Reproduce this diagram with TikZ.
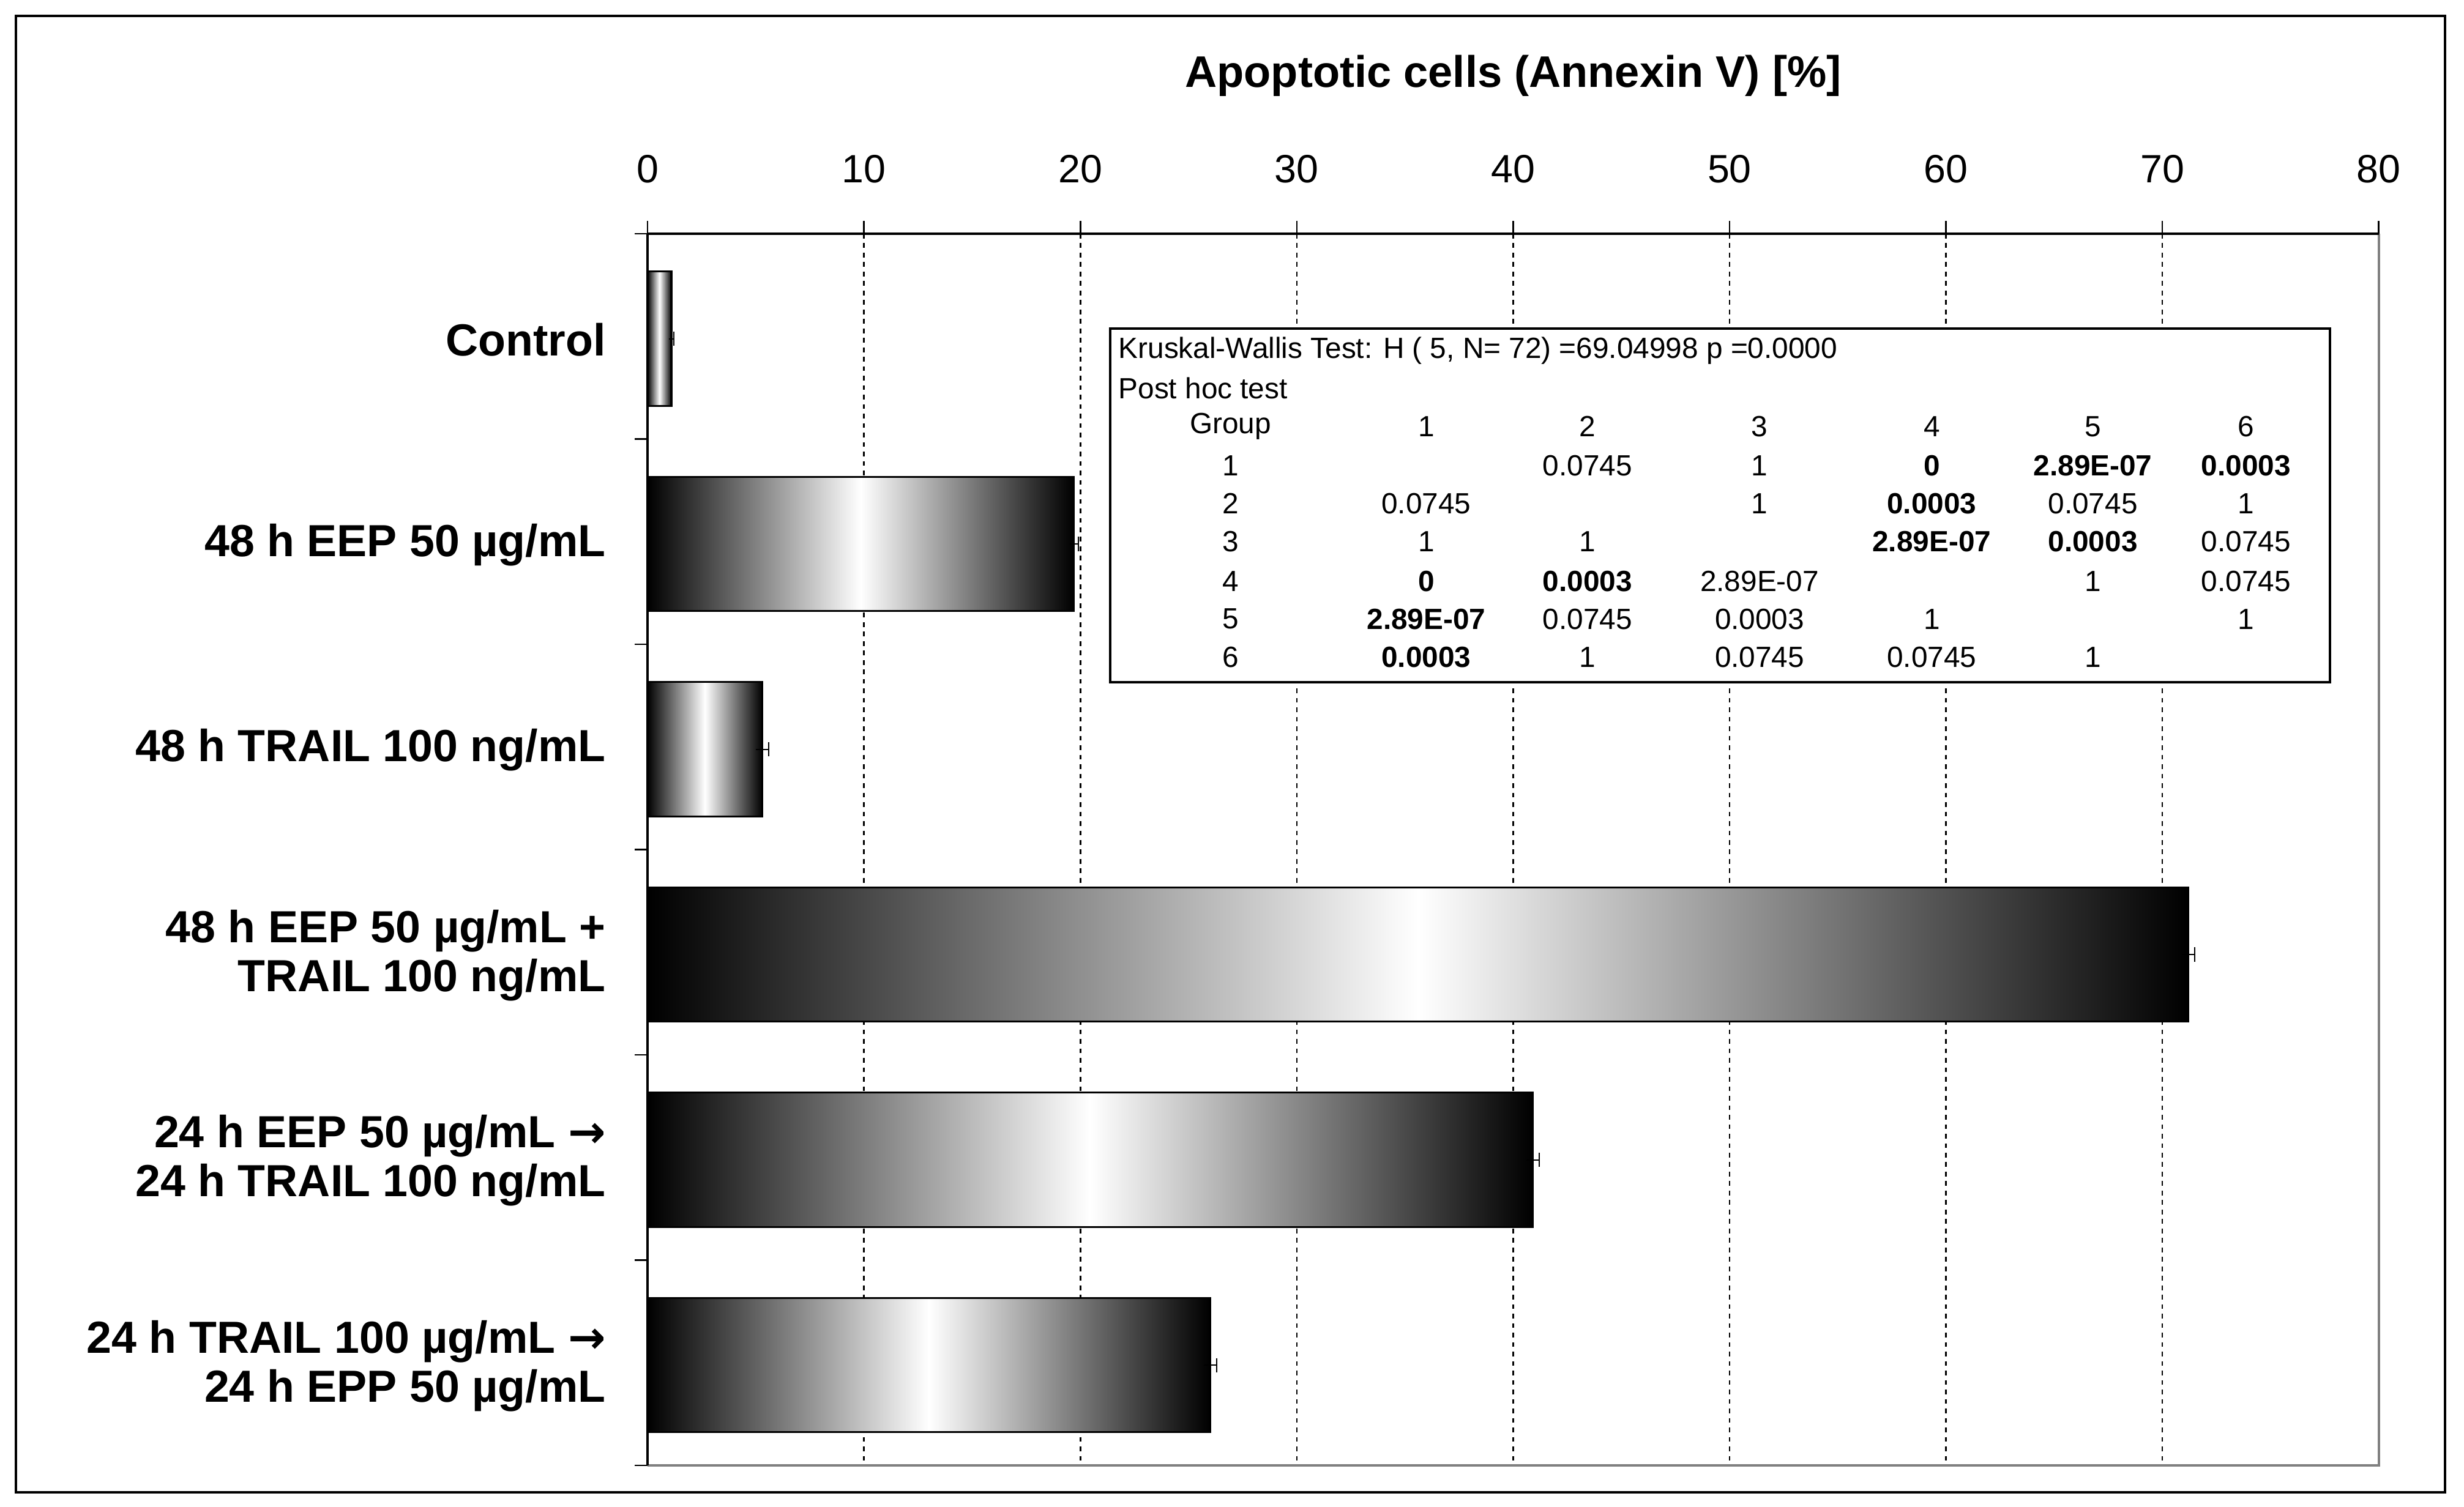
\documentclass[tikz,border=0pt]{standalone}
\usepackage{fontspec}
\setmainfont{Liberation Sans}
\newfontfamily\dv{DejaVu Sans}
\begin{document}
\begin{tikzpicture}[x=1pt,y=-1pt,
 lab/.style={font=\fontsize{28.5}{31}\selectfont\bfseries,align=right,anchor=east},
 tk/.style={font=\fontsize{25}{28}\selectfont},
 tb/.style={font=\fontsize{18.5}{20}\selectfont,inner sep=0pt},
 bar/.style={draw=black,line width=1.2pt,left color=black,right color=black,middle color=white},
 grid/.style={dashed,line width=1pt}]
\useasboundingbox (0,0) rectangle (1560,954);
\draw[line width=1.5pt] (10,10) rectangle (1548,945);
\node[font=\fontsize{28}{30}\selectfont\bfseries] (title) at (958,48) {Apoptotic cells (Annexin V) [\%]};
\foreach \v in {10,20,...,70} \draw[grid] ({410+13.7*\v},148) -- ({410+13.7*\v},928);
\draw[gray,line width=1.5pt] (1506,148) -- (1506,928) -- (410,928);
\draw[line width=1.5pt] (410,148) -- (1506,148);
\draw[line width=1.5pt] (410,148) -- (410,928);
\foreach \v in {0,10,...,80} {
 \node[tk] at ({410+13.7*\v},107) {\v};
 \draw[line width=1pt] ({410+13.7*\v},140) -- ({410+13.7*\v},148);}
\foreach \y in {148,278,408,538,668,798,928} \draw[line width=1pt] (402,\y) -- (410,\y);
\foreach \t/\v/\e in {172/1.1/0.1,302/19.7/0.2,432/5.3/0.3,562/71.2/0.3,692/40.9/0.3,822/26/0.3}{
 \draw[bar] (410,\t) rectangle ({410+13.7*\v},\t+85);
 \draw[line width=0.8pt] ({410+13.7*(\v-\e)},\t+42.5) -- ({410+13.7*(\v+\e)},\t+42.5)
   ({410+13.7*(\v+\e)},\t+38) -- ({410+13.7*(\v+\e)},\t+47);}
\node[lab] (l1) at (387,215) {Control};
\node[lab] (l2) at (387,345) {48 h EEP 50 µg/mL};
\node[lab] (l3) at (387,475) {48 h TRAIL 100 ng/mL};
\node[lab] (l4) at (387,605) {48 h EEP 50 µg/mL +\\TRAIL 100 ng/mL};
\node[lab] (l5) at (387,735) {24 h EEP 50 µg/mL {\dv\bfseries →}\\24 h TRAIL 100 ng/mL};
\node[lab] (l6) at (387,865) {24 h TRAIL 100 µg/mL {\dv\bfseries →}\\24 h EPP 50 µg/mL};
\draw[fill=white,line width=1.5pt] (703,208) rectangle (1475,432);
\node[tb,anchor=west] at (708,222) {Kruskal-Wallis Test: H ( 5, N= 72) =69.04998 p =0.0000};
\node[tb,anchor=west] at (708,246) {Post hoc test};
\foreach \x/\s in {779/Group,903/1,1005/2,1114/3,1223/4,1325/5,1422/6} \node[tb] at (\x,270) {\s};
\def\r#1#2#3#4#5#6#7#8{%
 \node[tb] at (779,#1) {#2};\node[tb] at (903,#1) {#3};\node[tb] at (1005,#1) {#4};
 \node[tb] at (1114,#1) {#5};\node[tb] at (1223,#1) {#6};\node[tb] at (1325,#1) {#7};\node[tb] at (1422,#1) {#8};}
\r{295}{1}{}{0.0745}{1}{\bfseries 0}{\bfseries 2.89E-07}{\bfseries 0.0003}
\r{319}{2}{0.0745}{}{1}{\bfseries 0.0003}{0.0745}{1}
\r{343}{3}{1}{1}{}{\bfseries 2.89E-07}{\bfseries 0.0003}{0.0745}
\r{368}{4}{\bfseries 0}{\bfseries 0.0003}{2.89E-07}{}{1}{0.0745}
\r{392}{5}{\bfseries 2.89E-07}{0.0745}{0.0003}{1}{}{1}
\r{416}{6}{\bfseries 0.0003}{1}{0.0745}{0.0745}{1}{}
\end{tikzpicture}
\end{document}
